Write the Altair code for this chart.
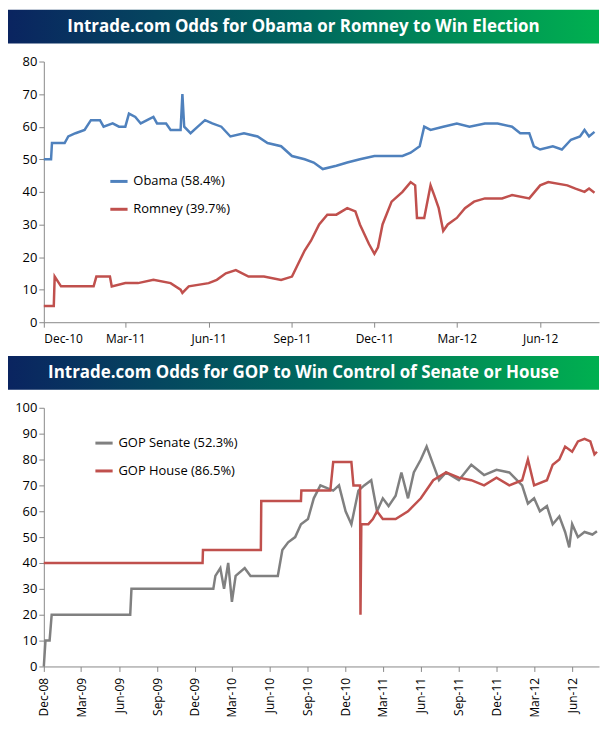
import altair as alt
import pandas as pd

obama_dates = ["2010-12-01", "2010-12-09", "2010-12-10", "2010-12-24", "2010-12-28", "2011-01-05", "2011-01-15", "2011-01-22", "2011-02-01", "2011-02-05", "2011-02-15", "2011-02-22", "2011-03-01", "2011-03-05", "2011-03-12", "2011-03-18", "2011-03-25", "2011-04-01", "2011-04-05", "2011-04-15", "2011-04-20", "2011-05-01", "2011-05-03", "2011-05-05", "2011-05-12", "2011-05-20", "2011-05-28", "2011-06-05", "2011-06-15", "2011-06-25", "2011-07-10", "2011-07-25", "2011-08-05", "2011-08-20", "2011-09-01", "2011-09-15", "2011-09-25", "2011-10-05", "2011-10-20", "2011-11-01", "2011-11-15", "2011-12-01", "2011-12-15", "2012-01-01", "2012-01-10", "2012-01-20", "2012-01-25", "2012-02-01", "2012-02-15", "2012-03-01", "2012-03-15", "2012-04-01", "2012-04-15", "2012-05-01", "2012-05-10", "2012-05-20", "2012-05-25", "2012-06-01", "2012-06-15", "2012-06-25", "2012-07-05", "2012-07-15", "2012-07-20", "2012-07-25", "2012-07-31"]
obama_vals = [50, 50, 55, 55, 57, 58, 59, 62, 62, 60, 61, 60, 60, 64, 63, 61, 62, 63, 61, 61, 59, 59, 70, 60, 58, 60, 62, 61, 60, 57, 58, 57, 55, 54, 51, 50, 49, 47, 48, 49, 50, 51, 51, 51, 52, 54, 60, 59, 60, 61, 60, 61, 61, 60, 58, 58, 54, 53, 54, 53, 56, 57, 59, 57, 58.4]

romney_dates = ["2010-12-01", "2010-12-12", "2010-12-13", "2010-12-20", "2011-01-01", "2011-01-25", "2011-01-28", "2011-02-12", "2011-02-14", "2011-03-01", "2011-03-15", "2011-04-01", "2011-04-20", "2011-05-01", "2011-05-03", "2011-05-10", "2011-06-01", "2011-06-10", "2011-06-20", "2011-07-01", "2011-07-15", "2011-08-01", "2011-08-20", "2011-09-01", "2011-09-08", "2011-09-15", "2011-09-22", "2011-10-01", "2011-10-10", "2011-10-20", "2011-11-01", "2011-11-10", "2011-11-15", "2011-11-25", "2011-12-01", "2011-12-05", "2011-12-10", "2011-12-20", "2012-01-01", "2012-01-10", "2012-01-15", "2012-01-17", "2012-01-25", "2012-02-01", "2012-02-05", "2012-02-10", "2012-02-15", "2012-02-20", "2012-03-01", "2012-03-10", "2012-03-20", "2012-04-01", "2012-04-20", "2012-05-01", "2012-05-20", "2012-06-01", "2012-06-10", "2012-07-01", "2012-07-10", "2012-07-20", "2012-07-25", "2012-07-31"]
romney_vals = [5, 5, 14, 11, 11, 11, 14, 14, 11, 12, 12, 13, 12, 10, 9, 11, 12, 13, 15, 16, 14, 14, 13, 14, 18, 22, 25, 30, 33, 33, 35, 34, 30, 24, 21, 23, 30, 37, 40, 43, 42, 32, 32, 42, 39, 35, 28, 30, 32, 35, 37, 38, 38, 39, 38, 42, 43, 42, 41, 40, 41, 39.7]

senate_dates = ["2008-12-01", "2008-12-05", "2008-12-15", "2008-12-20", "2009-06-28", "2009-07-01", "2010-01-15", "2010-01-20", "2010-02-01", "2010-02-10", "2010-02-20", "2010-03-01", "2010-03-10", "2010-04-01", "2010-04-15", "2010-06-20", "2010-07-01", "2010-07-15", "2010-08-01", "2010-08-15", "2010-09-01", "2010-09-15", "2010-10-01", "2010-11-01", "2010-11-15", "2010-12-01", "2010-12-15", "2011-01-01", "2011-01-15", "2011-02-01", "2011-02-15", "2011-03-01", "2011-03-15", "2011-04-01", "2011-04-15", "2011-05-01", "2011-05-15", "2011-06-01", "2011-06-15", "2011-07-01", "2011-07-15", "2011-08-01", "2011-09-01", "2011-10-01", "2011-11-01", "2011-12-01", "2012-01-01", "2012-02-01", "2012-02-15", "2012-03-01", "2012-03-15", "2012-04-01", "2012-04-15", "2012-05-01", "2012-05-15", "2012-05-25", "2012-06-01", "2012-06-15", "2012-07-01", "2012-07-20", "2012-07-31"]
senate_vals = [0, 10, 10, 20, 20, 30, 30, 35, 38, 30, 40, 25, 35, 38, 35, 35, 45, 48, 50, 55, 57, 65, 70, 68, 70, 60, 55, 68, 70, 72, 60, 65, 62, 66, 75, 65, 75, 80, 85, 78, 72, 75, 72, 78, 74, 76, 75, 70, 63, 65, 60, 62, 55, 58, 52, 46, 55, 50, 52, 51, 52.3]

house_dates = ["2008-12-01", "2009-12-20", "2009-12-21", "2010-05-10", "2010-05-11", "2010-08-15", "2010-08-16", "2010-10-25", "2010-11-01", "2010-12-15", "2010-12-20", "2011-01-05", "2011-01-06", "2011-01-08", "2011-01-25", "2011-02-05", "2011-02-15", "2011-03-01", "2011-04-01", "2011-05-01", "2011-06-01", "2011-07-01", "2011-08-01", "2011-09-01", "2011-10-01", "2011-11-01", "2011-12-01", "2012-01-01", "2012-02-01", "2012-02-15", "2012-03-01", "2012-04-01", "2012-04-15", "2012-05-01", "2012-05-15", "2012-06-01", "2012-06-15", "2012-07-01", "2012-07-15", "2012-07-25", "2012-07-31"]
house_vals = [40, 40, 45, 45, 64, 64, 68, 68, 79, 79, 70, 70, 20, 55, 55, 57, 60, 57, 57, 60, 65, 72, 75, 73, 72, 70, 73, 70, 72, 80, 70, 72, 78, 80, 85, 83, 87, 88, 87, 82, 83]

top_names = ["Obama (58.4%)", "Romney (39.7%)"]
bottom_names = ["GOP Senate (52.3%)", "GOP House (86.5%)"]

FONT = "Open Sans"
W = 594
AX = 36


def frame(names, dates_list, vals_list):
    rows = []
    for n, ds, vs in zip(names, dates_list, vals_list):
        rows += [{"Date": d, "Value": v, "Series": n} for d, v in zip(ds, vs)]
    return pd.DataFrame(rows)


def banner(text):
    grad = alt.Gradient(
        gradient="linear",
        stops=[
            alt.GradientStop(color="#0a2460", offset=0),
            alt.GradientStop(color="#00675e", offset=0.5),
            alt.GradientStop(color="#00b050", offset=1),
        ],
        x1=0, x2=1, y1=0, y2=0,
    )
    base = alt.Chart(pd.DataFrame({"t": [text]}))
    rect = base.mark_rect(color=grad).encode(
        x=alt.value(-AX), x2=alt.value(W - AX), y=alt.value(0), y2=alt.value(34)
    )
    txt = base.mark_text(
        color="white", font=FONT, fontSize=17, fontWeight="bold"
    ).encode(x=alt.value(W / 2 - AX), y=alt.value(17), text="t:N")
    return (rect + txt).properties(width=W - AX, height=34)


def panel(df, names, colors, ymax, xvals, angle, lx, ly, height):
    return (
        alt.Chart(df)
        .mark_line(strokeWidth=2.5)
        .encode(
            x=alt.X(
                "Date:T", title=None,
                scale=alt.Scale(domain=[xvals[0], "2012-08-05"]),
                axis=alt.Axis(values=xvals, format="%b-%y", labelAngle=angle,
                              grid=False, labelFontSize=12, labelPadding=6),
            ),
            y=alt.Y(
                "Value:Q", title=None,
                scale=alt.Scale(domain=[0, ymax]),
                axis=alt.Axis(values=list(range(0, ymax + 1, 10)), grid=False,
                              labelFontSize=13, domain=True),
            ),
            color=alt.Color(
                "Series:N", sort=names,
                scale=alt.Scale(domain=names, range=colors),
                legend=alt.Legend(orient="none", legendX=lx, legendY=ly, title=None,
                                  symbolType="stroke", symbolStrokeWidth=3,
                                  symbolSize=300, labelFontSize=13, rowPadding=10),
            ),
        )
        .properties(width=W - AX, height=height)
    )


top = panel(
    frame(top_names, [obama_dates, romney_dates], [obama_vals, romney_vals]),
    top_names, ["#4f81bd", "#c0504d"], 80,
    ["2010-12-01", "2011-03-01", "2011-06-01", "2011-09-01", "2011-12-01", "2012-03-01", "2012-06-01"],
    0, 65, 110, 262,
)

bottom_x = [f"{y}-{m:02d}-01" for y in range(2008, 2013) for m in (3, 6, 9, 12)]
bottom_x = [d for d in bottom_x if "2008-12-01" <= d <= "2012-06-01"]
bottom = panel(
    frame(bottom_names, [senate_dates, house_dates], [senate_vals, house_vals]),
    bottom_names, ["#808080", "#c0504d"], 100, bottom_x,
    -90, 50, 25, 260,
)

chart = (
    alt.vconcat(
        banner("Intrade.com Odds for Obama or Romney to Win Election"),
        top,
        banner("Intrade.com Odds for GOP to Win Control of Senate or House"),
        bottom,
        spacing=12,
    )
    .resolve_scale(color="independent")
    .properties(padding=0)
    .configure_view(stroke=None)
    .configure_axis(labelFont=FONT, labelColor="black", domainColor="#888",
                    tickColor="#888")
    .configure_legend(labelFont=FONT)
)
chart.save("out.html", embed_options={"renderer": "svg", "actions": False})
